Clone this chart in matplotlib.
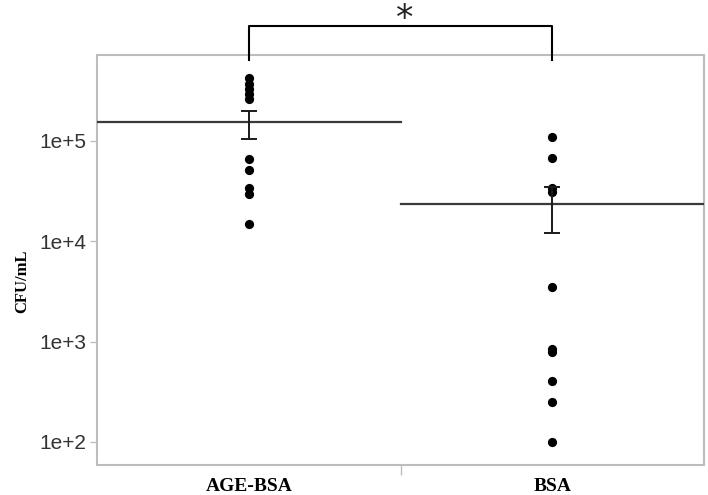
import numpy as np
import matplotlib
matplotlib.use("Agg")
import matplotlib.pyplot as plt
import matplotlib.transforms as mtransforms

groups = ["AGE-BSA", "BSA"]
age_bsa = [4.2e5, 3.7e5, 3.3e5, 2.95e5, 2.6e5, 6.6e4, 5.1e4, 3.4e4, 2.95e4, 1.48e4]
bsa = [1.1e5, 6.8e4, 3.4e4, 3.1e4, 3.5e3, 840, 790, 405, 250, 100]
means = [1.54e5, 2.34e4]
se_low = [1.04e5, 1.2e4]
se_high = [2.0e5, 3.5e4]
yticks = [1e2, 1e3, 1e4, 1e5]
ytick_labels = ["1e+2", "1e+3", "1e+4", "1e+5"]
signif = "*"

frame_col = "#bdbdbd"

fig = plt.figure(figsize=(7.08, 4.95), dpi=100)
ax = fig.add_axes([0.137, 0.0606, 0.8574, 0.8274])

xpos = [0.5, 1.5]
for i, vals in enumerate([age_bsa, bsa]):
    ax.scatter([xpos[i]] * len(vals), vals, s=44, color="black", zorder=4, linewidths=0)
    # mean line across the half of the panel
    ax.plot([i, i + 1], [means[i], means[i]], color="#3a3a3a", linewidth=1.6, zorder=3)
    ax.errorbar(xpos[i], means[i],
                yerr=[[means[i] - se_low[i]], [se_high[i] - means[i]]],
                fmt="none", ecolor="#1a1a1a", elinewidth=1.4, capsize=5.5,
                capthick=1.4, zorder=5)

ax.set_yscale("log")
ax.set_xlim(0, 2)
ax.set_ylim(10 ** 1.77, 10 ** 5.852)
ax.set_yticks(yticks)
ax.set_yticklabels(ytick_labels, fontsize=15, family="Liberation Sans", color="#333333")
ax.yaxis.set_minor_locator(matplotlib.ticker.NullLocator())
ax.tick_params(axis="y", length=5, width=1, color=frame_col, pad=3)

ax.set_xticks([1.0])
ax.set_xticklabels([""])
ax.tick_params(axis="x", which="major", length=7, width=1, color=frame_col)
ax.set_xticks(xpos, minor=True)
ax.set_xticklabels(groups, minor=True, fontsize=14, family="Liberation Serif",
                   fontweight="bold")
ax.tick_params(axis="x", which="minor", length=0, pad=9)

ax.set_ylabel("CFU/mL", fontsize=12, family="Liberation Serif", fontweight="bold",
              labelpad=6.5)
ax.yaxis.label.set_y(0.449)

for sp in ax.spines.values():
    sp.set_color(frame_col)
    sp.set_linewidth(1.5)

# significance bracket above the panel
trans = mtransforms.blended_transform_factory(ax.transData, ax.transAxes)
ax.plot([xpos[0], xpos[0], xpos[1], xpos[1]], [0.99, 1.072, 1.072, 0.99],
        color="black", linewidth=1.5, transform=trans, clip_on=False, zorder=6)
star_trans = mtransforms.blended_transform_factory(ax.transData, fig.transFigure)
ax.text(1.015, 1 - 2 / 495, signif, transform=star_trans, ha="center", va="top",
        fontsize=25, family="DejaVu Sans", color="#222222")

fig.savefig("out.png", dpi=100)
